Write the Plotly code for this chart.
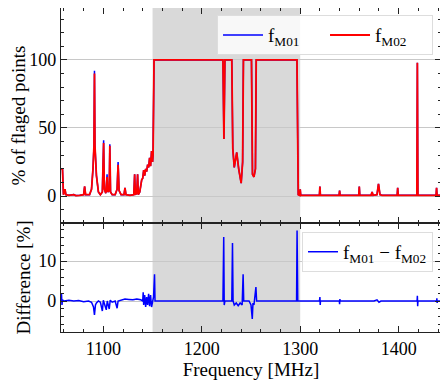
import plotly.graph_objects as go
from plotly.subplots import make_subplots

# flagged percentage per channel
freq = [1057, 1058.5, 1059.5, 1061, 1062, 1065, 1070, 1072, 1076, 1080,
        1081, 1082, 1086, 1088, 1089.5, 1090.5, 1091, 1091.5, 1093, 1095,
        1097, 1099, 1100.3, 1101, 1102.5, 1103.8, 1104.5, 1106, 1106.6, 1107.3,
        1109, 1112, 1114, 1115, 1116, 1118, 1121, 1122, 1123, 1127,
        1131, 1131.8, 1132.5, 1134, 1134.8, 1135.5, 1137, 1138, 1139, 1140,
        1141, 1142, 1143, 1144, 1145, 1146, 1147, 1148, 1149, 1150,
        1150.5, 1151.5, 1221.5, 1222.5, 1223.5, 1230.5, 1231.5, 1233, 1235.5, 1237.5,
        1240, 1241.5, 1242.3, 1250.5, 1251.5, 1253, 1254.5, 1255.3, 1296.7, 1298,
        1299.5, 1300, 1300.5, 1319.5, 1320, 1320.5, 1339.5, 1340, 1340.5, 1359.5,
        1360, 1360.5, 1372, 1373, 1374, 1378, 1379.5, 1381, 1383, 1398.5,
        1399, 1399.5, 1418.5, 1419, 1419.5, 1438, 1438.5, 1439, 1444]

f_m02 = [20, 20, 1, 5, 1, 0.5, 1, 0.3, 0.5, 1,
         7, 1, 1, 5, 20, 37, 90, 37, 15, 3,
         1, 3, 39, 5, 2, 14, 3, 4, 37, 3,
         1, 1, 5, 23, 4, 1, 1, 6, 1, 0.5,
         1, 16, 1, 2, 16, 1, 3, 9, 12, 13,
         19, 15, 20, 18, 23, 21, 28, 22, 33, 25,
         30, 100, 100, 42, 100, 100, 35, 21, 32, 20,
         9.5, 25, 100, 100, 16, 14, 20, 100, 100, 1,
         0.5, 5, 0.5, 0.5, 7, 0.5, 0.5, 4, 0.5, 0.5,
         7, 0.5, 0.5, 3, 0.5, 1, 9, 1, 0.5, 0.5,
         6, 0.5, 0.5, 98, 0.5, 0.5, 6, 0.5, 0.5]

f_m01 = [20, 20, 1, 5, 1, 0.5, 1, 0.3, 0.5, 1,
         7, 1, 1, 5, 20, 37, 92, 37, 15, 3,
         1, 3, 41, 5, 2, 16, 3, 4, 38, 3,
         1, 1, 5, 25, 4, 1, 1, 6, 1, 0.5,
         1, 16, 1, 2, 16, 1, 3, 9, 12, 13,
         19, 15, 20, 18, 23, 21, 28, 22, 33, 25,
         30, 100, 100, 42, 100, 100, 35, 21, 32, 20,
         9.5, 25, 100, 100, 16, 14, 20, 100, 100, 1,
         0.5, 5, 0.5, 0.5, 7, 0.5, 0.5, 4, 0.5, 0.5,
         7, 0.5, 0.5, 3, 0.5, 1, 9, 1, 0.5, 0.5,
         6, 0.5, 0.5, 98, 0.5, 0.5, 6, 0.5, 0.5]

# difference f_M01 - f_M02
diff_freq = [1057, 1057.5, 1058, 1058.5, 1060, 1065, 1070, 1075, 1080, 1085,
             1088, 1090, 1091, 1092, 1093, 1095, 1097, 1099, 1100, 1101,
             1103, 1104, 1106, 1107, 1109, 1112, 1114, 1115, 1118, 1122,
             1126, 1130, 1134, 1138, 1140, 1140.5, 1141, 1142, 1143, 1144,
             1145, 1146, 1147, 1148, 1149, 1150, 1151, 1152, 1152.5, 1221.5,
             1222.3, 1222.8, 1223.5, 1230.5, 1231.2, 1231.8, 1233, 1235, 1237, 1239,
             1241, 1242, 1242.6, 1248, 1250, 1251.3, 1252, 1253, 1255, 1255.7,
             1296.3, 1296.8, 1297.5, 1319.5, 1320, 1320.3, 1320.6, 1339.7, 1340, 1340.3,
             1340.6, 1375, 1378, 1380, 1382, 1418.7, 1419, 1419.3, 1419.6, 1438.5,
             1438.8, 1439.1, 1439.4, 1444]

diff = [0, 1.8, -1, 0.3, 0, 0.2, 0, 0.1, -0.2, 0,
        -0.3, -1.5, -3.5, -1, -0.5, 0, -0.3, -2.5, 0.2, -0.5,
        -2.2, 0, -2, 0.2, -0.3, 0, -1.8, 0, 0.3, 0.5,
        0.4, 0.3, 0.5, 0.3, 0, 2.2, -1, 1.5, -1.5, 1,
        -1, 1.8, -1.3, 1.5, -1.5, 0.5, 1, 6.7, 0, 0,
        16, -1, 0, 0, 14.5, 0, -1, -0.5, -1.2, -0.5,
        -1, 6.7, 0, 0, -1, -4.5, -0.5, -1, 3.5, 0,
        0, 17.6, 0, 0, 1, -1, 0, 0, -0.8, 0.5,
        0, 0, 0.3, -0.3, 0, 0, 1.3, -1.3, 0, 0,
        0.7, -0.5, 0, 0]

band = [1150, 1300]

FONT = "Liberation Serif, Times New Roman, Times, serif"

# the page body keeps its default 8px margin, so the figure is sized 8px smaller
fig = make_subplots(rows=2, cols=1, shared_xaxes=True, vertical_spacing=0,
                    row_heights=[0.6636, 0.3364])

fig.add_trace(go.Scatter(x=freq, y=f_m01, mode="lines", name="f<sub>M01</sub>",
                         line=dict(color="blue", width=1.5), legend="legend"),
              row=1, col=1)
fig.add_trace(go.Scatter(x=freq, y=f_m02, mode="lines", name="f<sub>M02</sub>",
                         line=dict(color="red", width=1.8), legend="legend"),
              row=1, col=1)
fig.add_trace(go.Scatter(x=diff_freq, y=diff, mode="lines",
                         name="f<sub>M01</sub> − f<sub>M02</sub>",
                         line=dict(color="blue", width=1.5), legend="legend2"),
              row=2, col=1)

# shaded band over both panels
fig.add_shape(type="rect", xref="x", yref="paper", x0=band[0], x1=band[1],
              y0=0, y1=1, fillcolor="#d9d9d9", line_width=0, layer="below")

axis_common = dict(showline=True, linecolor="#222", linewidth=1.2, mirror="allticks",
                   ticks="inside", ticklen=6, tickcolor="#222", zeroline=False,
                   automargin=False,
                   tickfont=dict(size=18, family=FONT, color="black"))

fig.update_xaxes(range=[1057, 1443], tick0=1100, dtick=100, showgrid=False,
                 minor=dict(ticks="inside", dtick=20, tick0=1100, ticklen=3,
                            tickcolor="#222"),
                 **axis_common)
fig.update_xaxes(title=dict(text="Frequency [MHz]", font=dict(size=19, family=FONT),
                            standoff=2), row=2, col=1)

fig.update_yaxes(range=[-19.85, 138.2], tickvals=[0, 50, 100], showgrid=True,
                 gridcolor="#c8c8c8", gridwidth=1,
                 minor=dict(ticks="inside", dtick=10, tick0=0, ticklen=3,
                            tickcolor="#222"),
                 title=dict(text="% of flaged points", font=dict(size=19, family=FONT),
                            standoff=2),
                 row=1, col=1, **axis_common)
fig.update_yaxes(range=[-7.75, 19.5], tickvals=[0, 10], showgrid=True,
                 gridcolor="#c8c8c8", gridwidth=1,
                 minor=dict(ticks="inside", dtick=2, tick0=0, ticklen=3,
                            tickcolor="#222"),
                 title=dict(text="Difference [%]", font=dict(size=19, family=FONT),
                            standoff=2),
                 row=2, col=1, **axis_common)

fig.update_layout(
    width=440, height=373,
    margin=dict(l=53, r=7, t=0, b=49),
    plot_bgcolor="white", paper_bgcolor="white",
    font=dict(family=FONT, size=18, color="black"),
    showlegend=True,
    legend=dict(orientation="h", x=0.979, xanchor="right", y=0.978, yanchor="top",
                bgcolor="rgba(255,255,255,0.8)", bordercolor="#dddddd", borderwidth=1,
                font=dict(size=19, family=FONT), itemwidth=40, entrywidth=52),
    legend2=dict(x=0.979, xanchor="right", y=0.309, yanchor="top",
                 bgcolor="rgba(255,255,255,0.8)", bordercolor="#dddddd", borderwidth=1,
                 font=dict(size=19, family=FONT)),
)

fig.write_html("out.html")
